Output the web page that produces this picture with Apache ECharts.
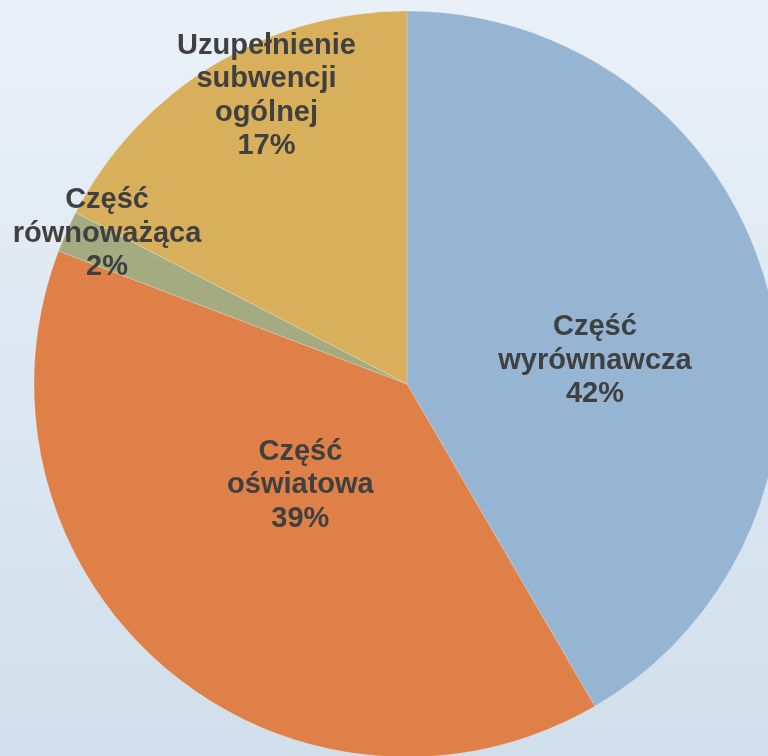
<!DOCTYPE html>
<html>
<head>
<meta charset="utf-8">
<script src="https://cdn.jsdelivr.net/npm/echarts@6/dist/echarts.min.js"></script>
<style>
  html, body { margin: 0; padding: 0; }
  #chart { width: 768px; height: 756px; }
</style>
</head>
<body>
<div id="chart"></div>
<script>
// parts of the subsidy, clockwise from 12 o'clock
var categories = ['Część\nwyrównawcza', 'Część\noświatowa', 'Część\nrównoważąca', 'Uzupełnienie\nsubwencji\nogólnej']
var shares = [41.6, 39.2, 1.8, 17.4]
var colors = ['#95B5D3', '#DE8047', '#A4AB80', '#D8B05C']
// nudge labels from the slice middle to where the original puts them
var labelShift = [[5, 26], [16, -43], [-127, -73], [-42, -126]]

var chart = echarts.init(document.getElementById('chart'))

var pieData = categories.map(function (name, i) {
  return { name: name, value: shares[i], itemStyle: { color: colors[i] } }
})

var option = {
  backgroundColor: {
    type: 'linear', x: 0, y: 0, x2: 0, y2: 1,
    colorStops: [
      { offset: 0, color: '#EAF0F8' },
      { offset: 1, color: '#D0DFEB' }
    ]
  },
  animation: false,
  series: [{
    type: 'pie',
    center: [407, 384],
    radius: 373,
    startAngle: 90,
    clockwise: true,
    emphasis: { disabled: true },
    itemStyle: {
      borderColor: 'rgba(255,255,255,0.4)',
      borderWidth: 0.5
    },
    label: {
      show: true,
      position: 'inside',
      color: '#404040',
      fontFamily: 'Liberation Sans, Arial, sans-serif',
      fontWeight: 'bold',
      fontSize: 29,
      lineHeight: 33.5,
      align: 'center',
      formatter: function (p) {
        return p.name + '\n' + Math.round(p.percent) + '%'
      }
    },
    labelLine: { show: false },
    labelLayout: function (p) {
      var s = labelShift[p.dataIndex]
      return { dx: s[0], dy: s[1] }
    },
    data: pieData
  }]
}

chart.setOption(option)
</script>
</body>
</html>
